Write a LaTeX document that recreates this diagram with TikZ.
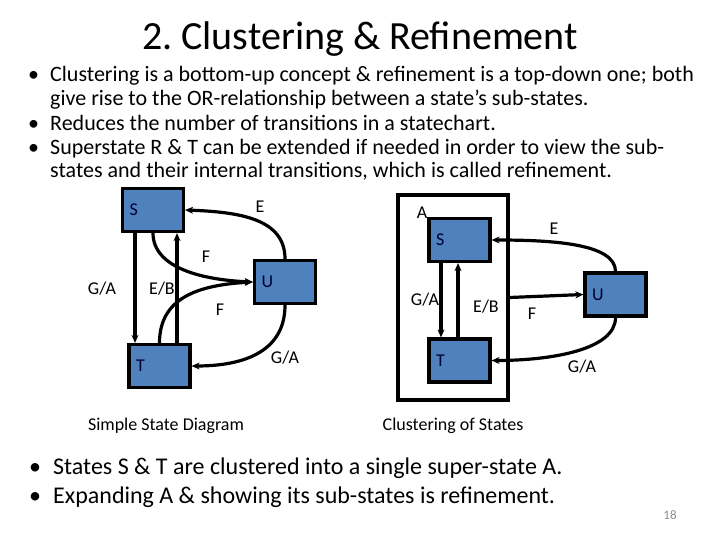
\documentclass[tikz,border=0pt]{standalone}
\usepackage{fontspec}
\setmainfont{Carlito}
\usetikzlibrary{arrows.meta}
\frenchspacing
\definecolor{boxblue}{HTML}{4F81BD}
\definecolor{pagegray}{HTML}{8C8C8C}
\tikzset{
  statebox/.style={draw=black, line width=3.2pt, fill=boxblue, minimum width=61pt, minimum height=43pt,
    text width=47pt, inner xsep=7pt, align=left, font=\fontsize{18}{18}\selectfont, text=black!80!blue},
  superbox/.style={draw=black, line width=3.2pt, minimum width=110pt, minimum height=205pt, inner sep=0pt},
  trans/.style={line width=3.2pt, -{Stealth[length=8pt,width=7pt]}},
  lbl/.style={font=\fontsize{18}{18}\selectfont, inner sep=0pt},
  captext/.style={font=\fontsize{18}{18}\selectfont, inner sep=0pt},
  bodytext/.style={font=\fontsize{22}{22}\selectfont, anchor=base west, inner sep=0pt},
  bottomtext/.style={font=\fontsize{24}{24}\selectfont, anchor=base west, inner sep=0pt},
}
\begin{document}
\begin{tikzpicture}[x=1pt,y=-1pt]
\useasboundingbox[fill=white] (0,0) rectangle (720,540);
% title
\node[font=\fontsize{40}{40}\selectfont, anchor=base, inner sep=0pt] (title) at (360,50) {2. Clustering \& Refinement};
% bullets top
\node[bodytext] (b1) at (28,82) {•};
\node[bodytext] (t1a) at (50,82) {Clustering is a bottom-up concept \& refinement is a top-down one; both};
\node[bodytext] (t1b) at (50,106) {give rise to the OR-relationship between a state’s sub-states.};
\node[bodytext] (b2) at (28,131) {•};
\node[bodytext] (t2) at (50,131) {Reduces the number of transitions in a statechart.};
\node[bodytext] (b3) at (28,155) {•};
\node[bodytext] (t3a) at (50,155) {Superstate R \& T can be extended if needed in order to view the sub-};
\node[bodytext] (t3b) at (50,178) {states and their internal transitions, which is called refinement.};

% left diagram
\node[statebox] (S) at (153,210) {S};
\node[statebox] (T) at (159.5,366) {T};
\node[statebox] (U) at (285,282) {U};
\draw[trans] ([xshift=-18pt]S.south) -- ([xshift=-18pt]S.south |- T.north);
\draw[trans] ([xshift=24pt]S.south |- T.north) -- ([xshift=24pt]S.south);
\draw[trans] (U.north) .. controls +(0,-40) and +(55,2) .. (S.east);
\draw[trans] (S.south) .. controls +(0,35) and +(-50,-2) .. (U.west);
\draw[trans] (T.north) .. controls +(0,-45) and +(-55,3) .. (U.west);
\draw[trans] (U.south) .. controls +(0,45) and +(55,0) .. (T.east);
\node[lbl] (lE) at (260,207) {E};
\node[lbl] (lF1) at (206,257) {F};
\node[lbl] (lGA1) at (102,289) {G/A};
\node[lbl] (lEB) at (162,289) {E/B};
\node[lbl] (lF2) at (220,310) {F};
\node[lbl] (lGA2) at (285,358) {G/A};

% right diagram
\node[superbox] (A) at (453,297.5) {};
\node[lbl] (lA) at (422,213) {A};
\node[statebox] (S2) at (459.5,240) {S};
\node[statebox] (T2) at (459.5,360.5) {T};
\node[statebox] (U2) at (615.5,294.5) {U};
\draw[trans] ([xshift=-18.5pt]S2.south) -- ([xshift=-18.5pt]S2.south |- T2.north);
\draw[trans] ([xshift=-1.5pt]S2.south |- T2.north) -- ([xshift=-1.5pt]S2.south);
\draw[trans] (A.east) -- (U2.west);
\draw[trans] (U2.north) .. controls +(0,-28) and +(60,0) .. (S2.east);
\draw[trans] (U2.south) .. controls +(0,32) and +(60,0) .. (T2.east);
\node[lbl] (rE) at (554,229) {E};
\node[lbl] (rGA1) at (425,300) {G/A};
\node[lbl] (rEB) at (486,307) {E/B};
\node[lbl] (rF) at (532,314) {F};
\node[lbl] (rGA2) at (582,367) {G/A};

% captions
\node[captext] (c1) at (166,426) {Simple State Diagram};
\node[captext] (c2) at (453,426) {Clustering of States};

% bottom bullets
\node[bottomtext] (b4) at (29,474) {•};
\node[bottomtext] (t4) at (53,474) {States S \& T are clustered into a single super-state A.};
\node[bottomtext] (b5) at (29,503) {•};
\node[bottomtext] (t5) at (53,503) {Expanding A \& showing its sub-states is refinement.};

\node[font=\fontsize{13}{13}\selectfont\rmfamily, text=pagegray, inner sep=0pt] (pg) at (670,515) {18};
\end{tikzpicture}
\end{document}
